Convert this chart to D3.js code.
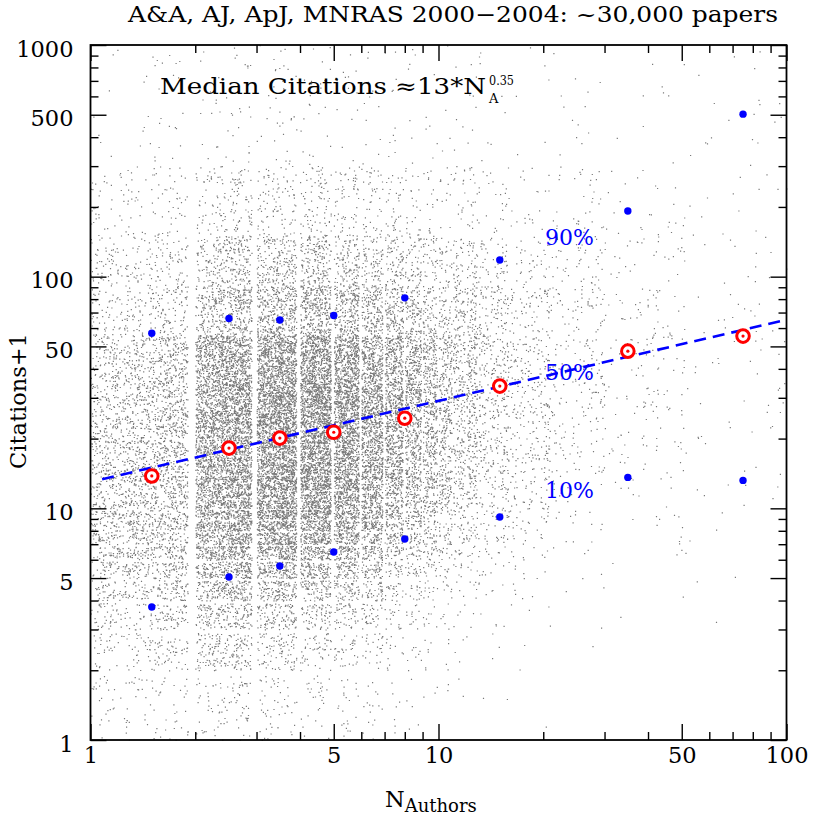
<!DOCTYPE html>
<html><head><meta charset="utf-8">
<script src="https://cdn.jsdelivr.net/npm/d3@7"></script>
<style>
body{margin:0;background:#fff}
svg{display:block}
text{font-family:"DejaVu Serif",serif;fill:#000}
</style>
</head><body>
<svg id="chart" width="830" height="830"></svg>
<script>
// ================= DATA =================
const titleText = "A&A, AJ, ApJ, MNRAS 2000\u22122004: ~30,000 papers";
const xLabelMain = "N", xLabelSub = "Authors";
const yLabelText = "Citations+1";

const xTickMajor = [1, 5, 10, 50, 100];
const xTickMinor = [2, 3, 4, 6, 7, 8, 9, 20, 30, 40, 60, 70, 80, 90];
const yTickMajor = [1, 5, 10, 50, 100, 500, 1000];
const yTickMinor = [2, 3, 4, 6, 7, 8, 9, 20, 30, 40, 60, 70, 80, 90, 200, 300, 400, 600, 700, 800, 900];

// binned statistics (x = mean N_authors of bin)
const binN    = [1.5, 2.5, 3.5, 5, 8, 15, 35, 75];
const median  = [13.8, 18.2, 20.1, 21.3, 24.5, 33.7, 47.7, 55.4];
const pct90   = [57, 66, 65, 68, 81, 118, 192, 503];
const pct10   = [3.75, 5.05, 5.64, 6.48, 7.37, 9.17, 13.6, 13.2];

// fit: Median ≈ 13 * N^0.35
const fitCoef = 13, fitExp = 0.35;
const fitN = [1.08, 100];

const pctLabels = ["90%", "50%", "10%"];
const pctLabelY = [245, 380, 498];

// scatter cloud (estimated): author-count columns, paper counts, citation profile
const colLo      = [1, 2, 3, 4, 5, 6, 7, 8, 9, 10, 11, 13, 16, 21, 30, 51];
const colHi      = [1, 2, 3, 4, 5, 6, 7, 8, 9, 10, 12, 15, 20, 29, 50, 100];
const colCount   = [3500, 5800, 5000, 3900, 2800, 2000, 1400, 1000, 700, 500, 750, 550, 450, 330, 230, 110];
const colProfile = [0, 1, 2, 3, 3, 3, 4, 4, 4, 4, 5, 5, 5, 6, 6, 7];

// citation+1 bins [lo, hi] and % of papers per bin for each profile
const citLo = [1, 2, 3, 4, 5, 6, 7, 9, 12, 17, 25, 36, 56, 91, 151, 301];
const citHi = [1, 2, 3, 4, 5, 6, 8, 11, 16, 24, 35, 55, 90, 150, 300, 999];
const prof0 = [2.5, 3.5, 4, 4.5, 4.5, 4.5, 8, 9, 11, 12, 10, 11.5, 6, 5, 3, 1];
const prof1 = [1.5, 3, 3, 3.5, 3.8, 3.8, 7.5, 9.5, 12, 13, 12.5, 13.5, 6.7, 4.5, 2.3, 0.7];
const prof2 = [1, 1.8, 2.2, 2.7, 3.2, 3.5, 7.3, 9.8, 13, 14.5, 13.5, 13.8, 7.2, 4, 1.8, 0.7];
const prof3 = [0.8, 1.3, 1.8, 2.2, 2.8, 3.1, 6.6, 9.5, 13, 14.5, 14.5, 14.6, 8, 4.5, 2.1, 0.6];
const prof4 = [0.5, 0.9, 1.3, 1.7, 2, 2.4, 5.4, 8.4, 12.3, 14.4, 15.5, 16.4, 10, 5.6, 2.4, 0.8];
const prof5 = [0.3, 0.5, 0.8, 1.1, 1.4, 1.7, 4.2, 6.8, 10.5, 12.8, 13.5, 17, 15, 8.5, 4.5, 1.4];
const prof6 = [0.1, 0.2, 0.3, 0.5, 0.6, 0.8, 2, 3.5, 7, 11, 13, 16, 17, 13.5, 10.5, 4];
const prof7 = [0.2, 0.3, 0.5, 0.6, 0.8, 1, 2, 3.5, 6, 9, 10, 13, 13, 11, 12, 17.1];
const profiles = [prof0, prof1, prof2, prof3, prof4, prof5, prof6, prof7];

// ================= DRAW =================
const svg = d3.select("#chart");
const L = 90.5, R = 786.5, T = 45, B = 740;
const x = d3.scaleLog().domain([1, 100]).range([L, R]);
const y = d3.scaleLog().domain([1, 1000]).range([B, T]);

// deterministic jitter within each cell (integer hash of point index)
function hash01(i, s) {
  let h = (i * 0x9E3779B1 + s * 0x85EBCA77) >>> 0;
  h ^= h >>> 16; h = Math.imul(h, 0x7feb352d) >>> 0;
  h ^= h >>> 15; h = Math.imul(h, 0x846ca68b) >>> 0;
  h ^= h >>> 16;
  return (h >>> 0) / 4294967296;
}

let n = 0;
let pathStr = "";
colLo.forEach((lo, ci) => {
  const hi = colHi[ci];
  const prof = profiles[colProfile[ci]];
  const tot = d3.sum(prof);
  prof.forEach((p, bi) => {
    const cnt = Math.round(colCount[ci] * p / tot);
    const clo = citLo[bi], chi = citHi[bi] + 1;
    for (let j = 0; j < cnt; j++) {
      n++;
      const u0 = hash01(n, 1), u1 = hash01(n, 2), u2 = hash01(n, 3), u3 = hash01(n, 4);
      const span = hi - lo + 1;
      const N = lo + Math.min(span - 1, Math.floor(u0 * span));
      const xv = N + 0.9 * u1;
      const v = clo * Math.pow(chi / clo, u2);
      const k = Math.floor(v);
      const yv = Math.min(999.9, k + 0.9 * u3);
      const px = x(xv), py = y(yv);
      if (px < L || px > R || py < T || py > B) continue;
      pathStr += "M" + px.toFixed(1) + "," + py.toFixed(1) + "h1.2v1.2h-1.2z";
    }
  });
});
svg.append("path").attr("d", pathStr).attr("fill", "#7a7a7a");

// fit line
const fitData = fitN.map(N => ({ N, c: fitCoef * Math.pow(N, fitExp) }));
svg.append("path")
  .datum(fitData)
  .attr("d", d3.line().x(d => x(d.N)).y(d => y(d.c)))
  .attr("fill", "none").attr("stroke", "#0000ff").attr("stroke-width", 2.6)
  .attr("stroke-dasharray", "12,7");

// percentile dots
const pts = binN.map((N, i) => ({ N, m: median[i], p90: pct90[i], p10: pct10[i] }));
svg.append("g").selectAll("circle").data(pts).join("circle")
  .attr("cx", d => x(d.N)).attr("cy", d => y(d.p90)).attr("r", 3.7).attr("fill", "#0000ff");
svg.append("g").selectAll("circle").data(pts).join("circle")
  .attr("cx", d => x(d.N)).attr("cy", d => y(d.p10)).attr("r", 3.7).attr("fill", "#0000ff");
const mg = svg.append("g");
mg.selectAll("circle.ring").data(pts).join("circle").attr("class", "ring")
  .attr("cx", d => x(d.N)).attr("cy", d => y(d.m)).attr("r", 6.3)
  .attr("fill", "#fff").attr("stroke", "#ff0000").attr("stroke-width", 3);
mg.selectAll("circle.dot").data(pts).join("circle").attr("class", "dot")
  .attr("cx", d => x(d.N)).attr("cy", d => y(d.m)).attr("r", 1.6).attr("fill", "#ff0000");

// percentile labels
svg.append("g").selectAll("text").data(pctLabels).join("text")
  .attr("x", 545).attr("y", (d, i) => pctLabelY[i])
  .attr("font-size", 22).style("fill", "#0000ff").text(d => d);

// axes
function styleAxis(g) {
  g.select(".domain").remove();
  g.selectAll(".tick line").attr("stroke", "#000").attr("stroke-width", 1.4);
  g.selectAll(".tick text").attr("font-family", "DejaVu Serif").attr("font-size", 22.5).attr("fill", "#000");
}
const fmt = d => String(d);
// bottom
svg.append("g").attr("transform", `translate(0,${B})`)
  .call(d3.axisBottom(x).tickValues(xTickMajor).tickFormat(fmt).tickSizeInner(-16).tickSizeOuter(0).tickPadding(7))
  .call(styleAxis);
svg.append("g").attr("transform", `translate(0,${B})`)
  .call(d3.axisBottom(x).tickValues(xTickMinor).tickFormat("").tickSizeInner(-8).tickSizeOuter(0))
  .call(styleAxis);
// top
svg.append("g").attr("transform", `translate(0,${T})`)
  .call(d3.axisTop(x).tickValues(xTickMajor).tickFormat("").tickSizeInner(-16).tickSizeOuter(0))
  .call(styleAxis);
svg.append("g").attr("transform", `translate(0,${T})`)
  .call(d3.axisTop(x).tickValues(xTickMinor).tickFormat("").tickSizeInner(-8).tickSizeOuter(0))
  .call(styleAxis);
// left
svg.append("g").attr("transform", `translate(${L},0)`)
  .call(d3.axisLeft(y).tickValues(yTickMajor).tickFormat(fmt).tickSizeInner(-16).tickSizeOuter(0).tickPadding(17))
  .call(styleAxis)
  .call(g => g.selectAll(".tick text").attr("dy", "0.5em"));
svg.append("g").attr("transform", `translate(${L},0)`)
  .call(d3.axisLeft(y).tickValues(yTickMinor).tickFormat("").tickSizeInner(-8).tickSizeOuter(0))
  .call(styleAxis);
// right
svg.append("g").attr("transform", `translate(${R},0)`)
  .call(d3.axisRight(y).tickValues(yTickMajor).tickFormat("").tickSizeInner(-16).tickSizeOuter(0))
  .call(styleAxis);
svg.append("g").attr("transform", `translate(${R},0)`)
  .call(d3.axisRight(y).tickValues(yTickMinor).tickFormat("").tickSizeInner(-8).tickSizeOuter(0))
  .call(styleAxis);

// frame
svg.append("rect").attr("x", L).attr("y", T).attr("width", R - L).attr("height", B - T)
  .attr("fill", "none").attr("stroke", "#000").attr("stroke-width", 1.8);

// title
svg.append("text").attr("x", 128).attr("y", 22).attr("font-size", 22)
  .attr("textLength", 650).attr("lengthAdjust", "spacingAndGlyphs").text(titleText);

// median formula label
svg.append("text").attr("x", 160).attr("y", 94).attr("font-size", 22)
  .attr("textLength", 326).attr("lengthAdjust", "spacingAndGlyphs")
  .text("Median Citations \u224813*N");
svg.append("text").attr("x", 489).attr("y", 85).attr("font-size", 13)
  .attr("textLength", 25).attr("lengthAdjust", "spacingAndGlyphs").text("0.35");
svg.append("text").attr("x", 489).attr("y", 103).attr("font-size", 13).text("A");

// axis labels
const xl = svg.append("text").attr("x", 385).attr("y", 807).attr("font-size", 22.5);
xl.append("tspan").text(xLabelMain);
xl.append("tspan").attr("dy", 5).attr("font-size", 18).text(xLabelSub);
svg.append("text").attr("transform", "translate(26,401) rotate(-90)")
  .attr("text-anchor", "middle").attr("font-size", 22.5).text(yLabelText);
</script>
</body></html>
